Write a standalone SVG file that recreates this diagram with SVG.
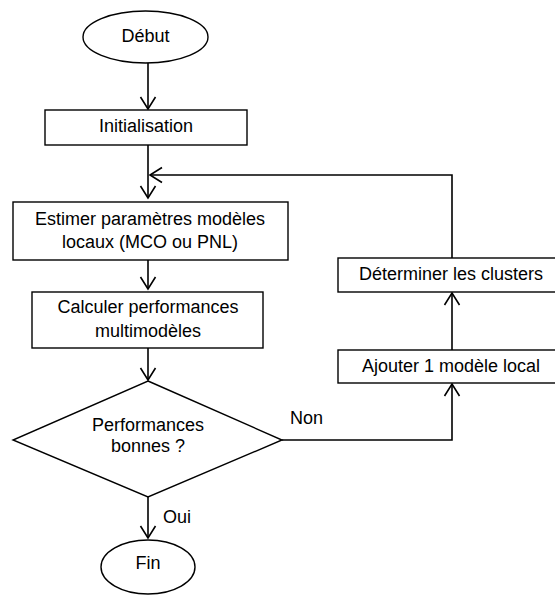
<svg xmlns="http://www.w3.org/2000/svg" width="555" height="595" viewBox="0 0 555 595">
<style>
.s{fill:#fff;stroke:#000;stroke-width:1.4}
.t{font-family:"Liberation Sans",Arial,sans-serif;font-size:18px;fill:#000;text-anchor:middle}
.l{font-family:"Liberation Sans",Arial,sans-serif;font-size:18px;fill:#000}
.c{fill:none;stroke:#000;stroke-width:1.6}
</style>
<defs>
<marker id="arr" markerUnits="userSpaceOnUse" markerWidth="20" markerHeight="20" viewBox="-14 -10 16 20" refX="0" refY="0" orient="auto">
<path d="M-12,-7.5 L0,0 L-12,7.5" fill="none" stroke="#000" stroke-width="1.6"/>
</marker>
</defs>
<rect width="555" height="595" fill="#fff"/>
<g id="connectors">
<line class="c" x1="148" y1="63" x2="148" y2="109" marker-end="url(#arr)"/>
<line class="c" x1="148" y1="145" x2="148" y2="198" marker-end="url(#arr)"/>
<polyline class="c" points="452,258 452,175 150,175" marker-end="url(#arr)"/>
<line class="c" x1="148" y1="260" x2="148" y2="289" marker-end="url(#arr)"/>
<line class="c" x1="148" y1="348" x2="148" y2="380" marker-end="url(#arr)"/>
<line class="c" x1="148" y1="497" x2="148" y2="538" marker-end="url(#arr)"/>
<polyline class="c" points="282,440 452,440 452,384" marker-end="url(#arr)"/>
<line class="c" x1="452" y1="350" x2="452" y2="293" marker-end="url(#arr)"/>
<text class="l" x="163" y="523">Oui</text>
<text class="l" x="290" y="424">Non</text>
</g>
<g id="debut">
<ellipse class="s" cx="145.5" cy="37" rx="62.5" ry="26"/>
<text class="t" x="145.5" y="42">Début</text>
</g>
<g id="init">
<rect class="s" x="45" y="110" width="202" height="35"/>
<text class="t" x="146" y="132">Initialisation</text>
</g>
<g id="estimer">
<rect class="s" x="13" y="202" width="275" height="58"/>
<text class="t" x="150" y="225">Estimer paramètres modèles</text>
<text class="t" x="150" y="248">locaux (MCO ou PNL)</text>
</g>
<g id="calculer">
<rect class="s" x="32" y="292" width="231" height="56"/>
<text class="t" x="148" y="313">Calculer performances</text>
<text class="t" x="148" y="337">multimodèles</text>
</g>
<g id="decision">
<polygon class="s" points="148,381 282,440 148,497 13,440"/>
<text class="t" x="148" y="431">Performances</text>
<text class="t" x="148" y="452">bonnes ?</text>
</g>
<g id="fin">
<ellipse class="s" cx="148" cy="567" rx="47" ry="27"/>
<text class="t" x="148" y="569">Fin</text>
</g>
<g id="determiner">
<rect class="s" x="338" y="258" width="220" height="34"/>
<text class="t" x="451" y="280">Déterminer les clusters</text>
</g>
<g id="ajouter">
<rect class="s" x="338" y="350" width="220" height="33"/>
<text class="t" x="451" y="372">Ajouter 1 modèle local</text>
</g>
</svg>
